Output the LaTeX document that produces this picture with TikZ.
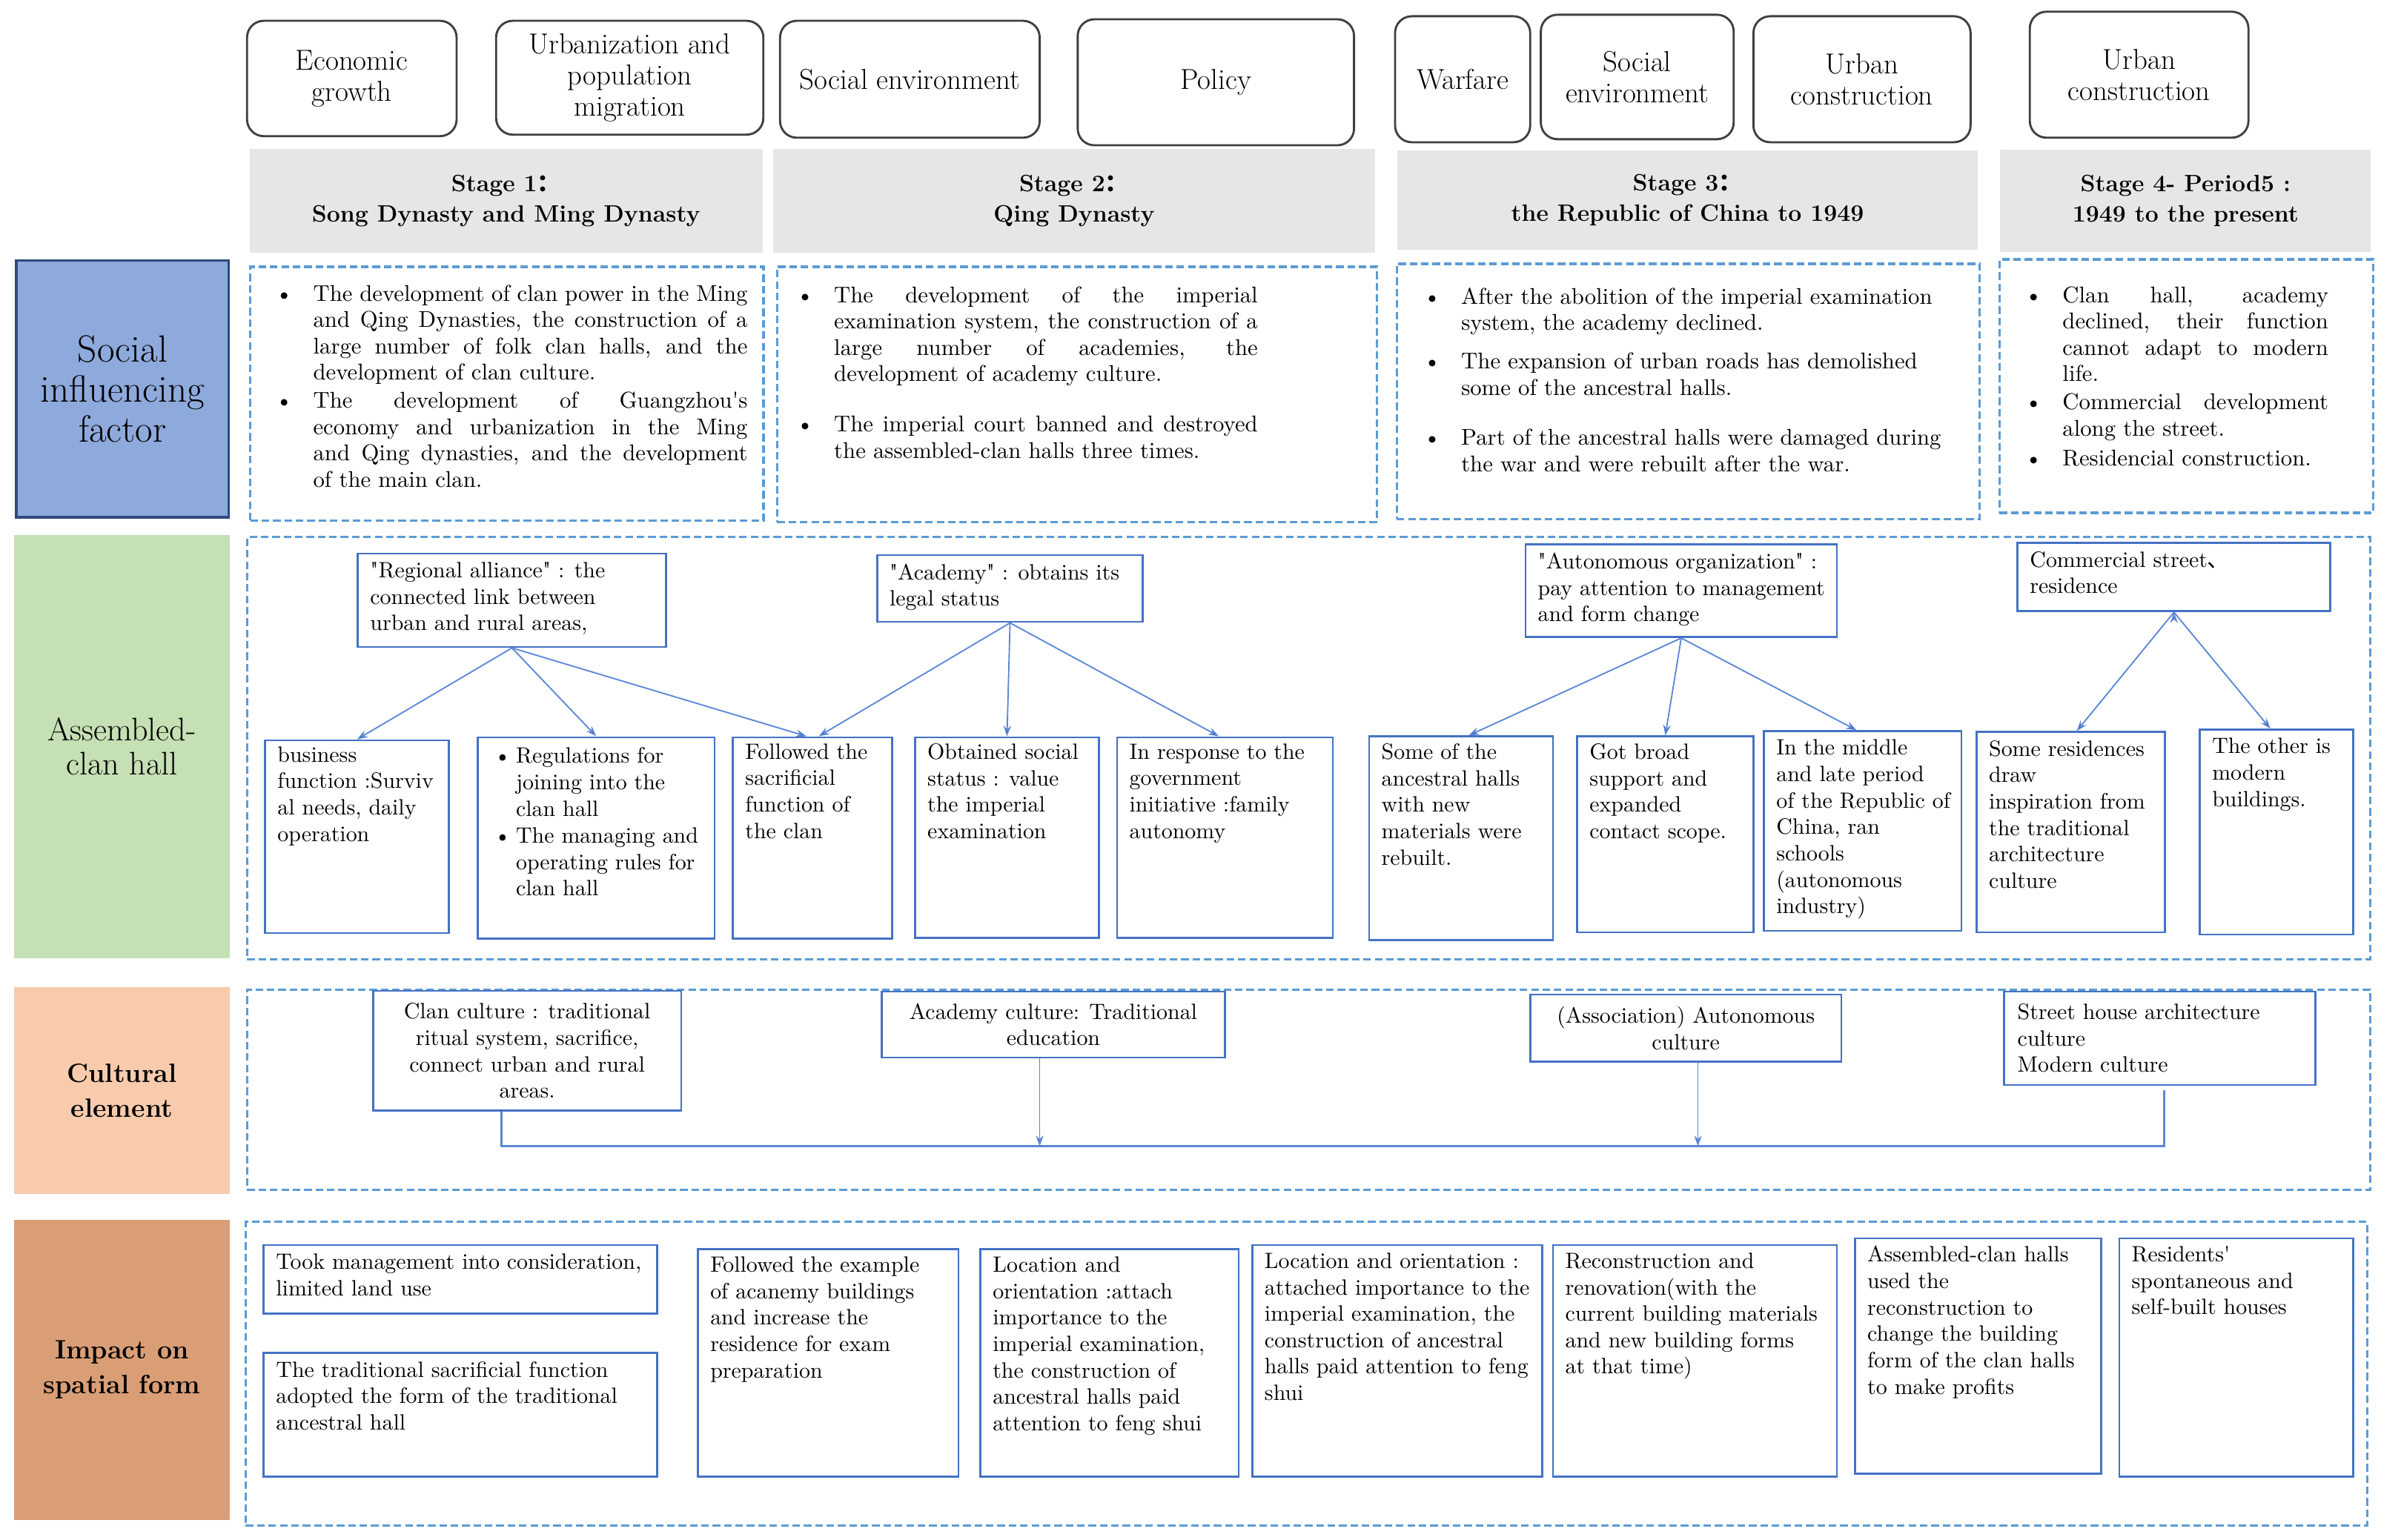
\documentclass[tikz,border=0pt]{standalone}
\usepackage{fontspec}
\newfontfamily\cjk{Noto Sans CJK SC}
\newfontfamily\bodyfam{lmroman10-regular.otf}
\usepackage{xcolor}
\usepackage{tikz}
\usetikzlibrary{arrows.meta}
\usetikzlibrary{positioning}

\definecolor{boxblue}{HTML}{4472C4}
\definecolor{dashblue}{HTML}{5B9BD5}
\definecolor{linkblue}{HTML}{5B87D6}
\definecolor{socialfill}{HTML}{8EA9DB}
\definecolor{socialline}{HTML}{2E4A7D}
\definecolor{clanfill}{HTML}{C5E0B4}
\definecolor{culturefill}{HTML}{F8CBAD}
\definecolor{impactfill}{HTML}{DA9E76}
\definecolor{stagegray}{HTML}{E7E6E6}
\definecolor{factorline}{HTML}{404040}

\newcommand{\bodyfont}{\bodyfam\fontsize{14.6}{17.4}\selectfont}
\newcommand{\socialfont}{\bodyfam\fontsize{15}{17.4}\selectfont}
\newcommand{\itm}[2][30pt]{\par\noindent\hbox to #1{\hskip5pt\textbullet\hfil}\parbox[t]{\dimexpr\hsize-#1\relax}{#2\strut}\par\vspace{1.5pt}}

\begin{document}
\begin{tikzpicture}[x=1pt,y=-1pt,>={Stealth[length=7pt,width=5pt]},semithick]
 \tikzstyle{factor}=[draw=factorline, line width=1.4pt, rounded corners=11pt, anchor=north west, inner sep=0pt, align=center, font=\fontsize{19}{20.5}\selectfont]
 \tikzstyle{stagehead}=[fill=stagegray, anchor=north west, inner sep=0pt, align=center, font=\fontsize{15.6}{20}\selectfont\bfseries]
 \tikzstyle{sidelabel}=[anchor=north west, inner sep=0pt, align=center]
 \tikzstyle{dashframe}=[draw=dashblue, line width=1.6pt, dash pattern=on 5pt off 2.5pt, anchor=north west, inner sep=0pt]
 \tikzstyle{bluebox}=[draw=boxblue, line width=1.3pt, anchor=north west, inner sep=0pt, align=center, font=\bodyfont]
 \tikzstyle{txt}=[anchor=north west, align=left, inner sep=0pt, font=\bodyfont]
 \tikzstyle{link}=[->, draw=linkblue, line width=0.9pt]
 \tikzstyle{cline}=[draw=linkblue, line width=1.3pt]

 \useasboundingbox (0,0) rectangle (1568,1014.4);

 % influencing factors on top
 \node[factor, minimum width=138pt, minimum height=76pt] (econ) at (162,13) {Economic\\growth};
 \node[factor, minimum width=176pt, minimum height=75pt] (urban) at (326,13) {Urbanization and\\population\\migration};
 \node[factor, minimum width=171pt, minimum height=77pt] (socenv) at (513,13) {Social environment};
 \node[factor, minimum width=182pt, minimum height=83pt] (policy) at (709,12) {Policy};
 \node[factor, minimum width=89pt, minimum height=83pt] (war) at (918,10) {Warfare};
 \node[factor, minimum width=127pt, minimum height=82pt] (socenvb) at (1014,9) {Social\\environment};
 \node[factor, minimum width=143pt, minimum height=83pt] (constr) at (1154,10) {Urban\\construction};
 \node[factor, minimum width=144pt, minimum height=83pt] (constrb) at (1336,7) {Urban\\construction};

 % stages
 \node[stagehead, minimum width=338pt, minimum height=68pt] (stA) at (164,98) {Stage 1{\cjk ：}\\Song Dynasty and Ming Dynasty};
 \node[stagehead, minimum width=396pt, minimum height=68pt] (stB) at (509,98) {Stage 2{\cjk ：}\\Qing Dynasty};
 \node[stagehead, minimum width=382pt, minimum height=65pt] (stC) at (920,99) {Stage 3{\cjk ：}\\the Republic of China to 1949};
 \node[stagehead, minimum width=244pt, minimum height=67pt] (stD) at (1317,98.5) {Stage 4- Period5 :\\1949 to the present};

 % row labels
 \node[sidelabel, fill=socialfill, draw=socialline, line width=1.5pt, minimum width=140pt, minimum height=169pt, font=\fontsize{25}{26.5}\selectfont] (social) at (10,171) {Social\\influencing\\factor};
 \node[sidelabel, fill=clanfill, minimum width=142pt, minimum height=279pt, font=\fontsize{21.5}{22.5}\selectfont] (clan) at (9,352) {Assembled-\\clan hall};
 \node[sidelabel, fill=culturefill, minimum width=142pt, minimum height=136pt, font=\fontsize{17.5}{23}\selectfont\bfseries] (culture) at (9,650) {Cultural\\element};
 \node[sidelabel, fill=impactfill, minimum width=142pt, minimum height=198pt, font=\fontsize{17.5}{23}\selectfont\bfseries] (impact) at (9,803) {Impact on\\spatial form};

 % dashed frames
 \node[dashframe, minimum width=338pt, minimum height=167pt] (dA) at (164,175) {};
 \node[dashframe, minimum width=395pt, minimum height=168pt] (dB) at (511,175) {};
 \node[dashframe, minimum width=384pt, minimum height=168pt] (dC) at (919,173) {};
 \node[dashframe, minimum width=246pt, minimum height=167pt] (dD) at (1316,170) {};
 \node[dashframe, minimum width=1398pt, minimum height=278pt] (dclan) at (162,353) {};
 \node[dashframe, minimum width=1398pt, minimum height=132pt] (dculture) at (162,651) {};
 \node[dashframe, minimum width=1397pt, minimum height=200pt] (dimpact) at (161,804) {};

 % social influencing factor texts
 \node[txt, font=\socialfont, text width=316pt, align=justify] (tA) at (176,180.5) {%
  \itm{The development of clan power in the Ming\linebreak and Qing Dynasties, the construction of a\linebreak large number of folk clan halls, and the\linebreak development of clan culture.}
  \itm{The development of Guangzhou's\linebreak economy and urbanization in the Ming\linebreak and Qing dynasties, and the development\linebreak of the main clan.}};
 \node[txt, font=\socialfont, text width=309pt, align=justify] (tB) at (519,181.5) {%
  \itm{The development of the imperial\linebreak examination system, the construction of a\linebreak large number of academies, the\linebreak development of academy culture.}
  \vspace{15pt}
  \itm{The imperial court banned and destroyed\linebreak the assembled-clan halls three times.}};
 \node[txt, font=\socialfont, text width=362pt] (tC) at (932,182.5) {%
  \itm{\raggedright After the abolition of the imperial examination\\system, the academy declined.}
  \vspace{7pt}
  \itm{\raggedright The expansion of urban roads has demolished\\some of the ancestral halls.}
  \vspace{14.5pt}
  \itm{\raggedright Part of the ancestral halls were damaged during\\the war and were rebuilt after the war.}};
 \node[txt, font=\socialfont, text width=205pt, align=justify] (tD) at (1328,181.5) {%
  \itm{Clan hall, academy\linebreak declined, their function\linebreak cannot adapt to modern\linebreak life.}
  \itm{Commercial development\linebreak along the street.}
  \itm{Residencial construction.}};

 % assembled-clan hall
 \node[bluebox, minimum width=203pt, minimum height=61.5pt] (RA) at (235,364) {};
 \node[bluebox, minimum width=175pt, minimum height=44pt] (AC) at (577,365) {};
 \node[bluebox, minimum width=205pt, minimum height=61pt] (AO) at (1004,358) {};
 \node[bluebox, minimum width=206pt, minimum height=45pt] (CS) at (1328,357) {};
 \node[bluebox, minimum width=121pt, minimum height=127pt] (c1) at (174,487) {};
 \node[bluebox, minimum width=156pt, minimum height=132.5pt] (c2) at (314,485) {};
 \node[bluebox, minimum width=105pt, minimum height=132.5pt] (c3) at (482,485) {};
 \node[bluebox, minimum width=121pt, minimum height=132pt] (c4) at (602,485) {};
 \node[bluebox, minimum width=142pt, minimum height=132pt] (c5) at (735,485) {};
 \node[bluebox, minimum width=121pt, minimum height=134pt] (c6) at (901,484.5) {};
 \node[bluebox, minimum width=116pt, minimum height=129pt] (c7) at (1038,484.5) {};
 \node[bluebox, minimum width=130pt, minimum height=131.5pt] (c8) at (1161,481) {};
 \node[bluebox, minimum width=124pt, minimum height=132pt] (c9) at (1301,481.5) {};
 \node[bluebox, minimum width=101pt, minimum height=135pt] (c10) at (1448,480) {};

 \node[txt] (RAt) at ([shift={(8.5,6)}]RA.north west) {\textquotedbl Regional alliance\textquotedbl{} : the\\connected link between\\urban and rural areas,};
 \node[txt] (ACt) at ([shift={(8.5,6)}]AC.north west) {\textquotedbl Academy\textquotedbl{} : obtains its\\legal status};
 \node[txt] (AOt) at ([shift={(8.5,6)}]AO.north west) {\textquotedbl Autonomous organization\textquotedbl{} :\\pay attention to management\\and form change};
 \node[txt] (CSt) at ([shift={(8.5,6)}]CS.north west) {Commercial street{\cjk 、}\\residence};
 \node[txt] (c1t) at ([shift={(8.5,4.5)}]c1.north west) {business\\function :Surviv\\al needs, daily\\operation};
 \node[txt, text width=148pt] (c2t) at ([shift={(6,0)}]c2.north west) {%
  \itm[19.5pt]{\raggedright Regulations for\\joining into the\\clan hall}
  \itm[19.5pt]{\raggedright The managing and\\operating rules for\\clan hall}};
 \node[txt] (c3t) at ([shift={(8.5,4.5)}]c3.north west) {Followed the\\sacrificial\\function of\\the clan};
 \node[txt] (c4t) at ([shift={(8.5,4.5)}]c4.north west) {Obtained social\\status : value\\the imperial\\examination};
 \node[txt] (c5t) at ([shift={(8.5,4.5)}]c5.north west) {In response to the\\government\\initiative :family\\autonomy};
 \node[txt] (c6t) at ([shift={(8.5,5)}]c6.north west) {Some of the\\ancestral halls\\with new\\materials were\\rebuilt.};
 \node[txt] (c7t) at ([shift={(8.5,5)}]c7.north west) {Got broad\\support and\\expanded\\contact scope.};
 \node[txt] (c8t) at ([shift={(8.5,6)}]c8.north west) {In the middle\\and late period\\of the Republic of\\China, ran\\schools\\(autonomous\\industry)};
 \node[txt] (c9t) at ([shift={(8.5,6)}]c9.north west) {Some residences\\draw\\inspiration from\\the traditional\\architecture\\culture};
 \node[txt] (c10t) at ([shift={(8.5,6)}]c10.north west) {The other is\\modern\\buildings.};

 \path[link]
   (RA.south) edge (c1.north)
   (RA.south) edge (c2.north)
   (RA.south) edge ([xshift=-4pt]c3.north)
   (AC.south) edge ([xshift=4pt]c3.north)
   (AC.south) edge (c4.north)
   (AC.south) edge ([xshift=-4pt]c5.north)
   (AO.south) edge ([xshift=5pt]c6.north)
   (AO.south) edge (c7.north)
   (AO.south) edge ([xshift=-4pt]c8.north)
   (CS.south) edge ([xshift=4pt]c9.north)
   (CS.south) edge ([xshift=-4pt]c10.north);

 % cultural element
 \node[bluebox, minimum width=203pt, minimum height=79pt] (CC) at (245,652) {Clan culture : traditional\\ritual system, sacrifice,\\connect urban and rural\\areas.};
 \node[bluebox, minimum width=226pt, minimum height=43.5pt] (AcC) at (580,652.5) {Academy culture: Traditional\\education};
 \node[bluebox, minimum width=205pt, minimum height=44pt] (AuC) at (1007,654.5) {(Association) Autonomous\\culture};
 \node[bluebox, minimum width=205pt, minimum height=61.5pt, text width=187pt, inner xsep=9pt, align=left] (SH) at (1319,652.5) {Street house architecture\\culture\\Modern culture};

 \coordinate (base) at (0,755);
 \coordinate (ccfoot) at ([xshift=-17pt]CC.south);
 \coordinate (acfoot) at ([xshift=-9pt]AcC.south);
 \coordinate (aufoot) at ([xshift=8pt]AuC.south);
 \coordinate (shfoot) at ([xshift=3pt,yshift=-3pt]SH.south);
 \draw[cline] (ccfoot) |- (shfoot |- base) -- (shfoot);
 \draw[link] (acfoot) -- (acfoot |- base);
 \draw[link] (aufoot) -- (aufoot |- base);

 % impact on spatial form
 \node[bluebox, minimum width=259pt, minimum height=45pt] (i1) at (173,819.5) {};
 \node[bluebox, minimum width=259pt, minimum height=81.5pt] (i2) at (173,890.5) {};
 \node[bluebox, minimum width=171.5pt, minimum height=150pt] (i3) at (459,822) {};
 \node[bluebox, minimum width=170pt, minimum height=150pt] (i4) at (645,822) {};
 \node[bluebox, minimum width=191pt, minimum height=152.5pt] (i5) at (824,819.5) {};
 \node[bluebox, minimum width=187pt, minimum height=152.5pt] (i6) at (1022,819.5) {};
 \node[bluebox, minimum width=162pt, minimum height=155pt] (i7) at (1221,815) {};
 \node[bluebox, minimum width=154pt, minimum height=157pt] (i8) at (1395,815) {};

 \node[txt] (i1t) at ([shift={(8.5,6)}]i1.north west) {Took management into consideration,\\limited land use};
 \node[txt] (i2t) at ([shift={(8.5,6)}]i2.north west) {The traditional sacrificial function\\adopted the form of the traditional\\ancestral hall};
 \node[txt] (i3t) at ([shift={(8.5,5.5)}]i3.north west) {Followed the example\\of acanemy buildings\\and increase the\\residence for exam\\preparation};
 \node[txt] (i4t) at ([shift={(8.5,5.5)}]i4.north west) {Location and\\orientation :attach\\importance to the\\imperial examination,\\the construction of\\ancestral halls paid\\attention to feng shui};
 \node[txt] (i5t) at ([shift={(8.5,5.5)}]i5.north west) {Location and orientation :\\attached importance to the\\imperial examination, the\\construction of ancestral\\halls paid attention to feng\\shui};
 \node[txt] (i6t) at ([shift={(8.5,5.5)}]i6.north west) {Reconstruction and\\renovation(with the\\current building materials\\and new building forms\\at that time)};
 \node[txt] (i7t) at ([shift={(8.5,5.5)}]i7.north west) {Assembled-clan halls\\used the\\reconstruction to\\change the building\\form of the clan halls\\to make profits};
 \node[txt] (i8t) at ([shift={(8.5,5.5)}]i8.north west) {Residents'\\spontaneous and\\self-built houses};
\end{tikzpicture}
\end{document}
